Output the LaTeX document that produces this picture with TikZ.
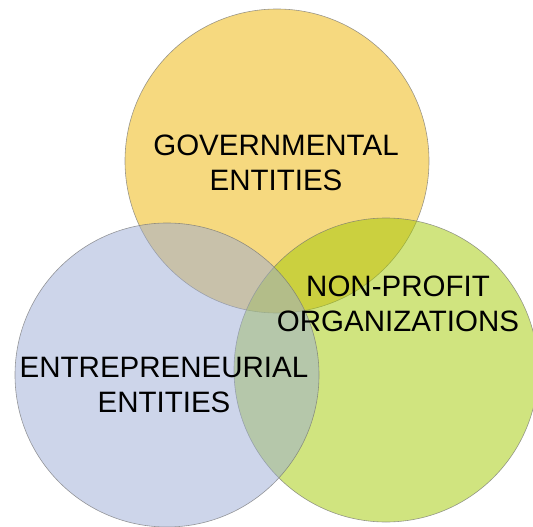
\documentclass[tikz,border=0pt]{standalone}
\usepackage{fontspec}
\setmainfont{Liberation Sans}
\definecolor{govcol}{RGB}{237,179,0}
\definecolor{npcol}{RGB}{161,201,0}
\definecolor{entcol}{RGB}{155,171,213}
\begin{document}
\begin{tikzpicture}[x=1pt,y=-1pt,
  venn/.style={circle, minimum size=304pt, inner sep=0pt, fill opacity=0.5, draw=black!55, draw opacity=0.7, line width=0.6pt},
  lbl/.style={font=\fontsize{29.5}{35.5}\selectfont, align=center, inner sep=0pt, text=black, anchor=base}]
\useasboundingbox (0,0) rectangle (533,527);
\node[venn, fill=govcol] (gov) at (277,161) {};
\node[venn, fill=npcol] (np) at (386,370) {};
\node[venn, fill=entcol] (ent) at (167,375) {};
\node[lbl] (govt) at (276,190.5) {GOVERNMENTAL\\ENTITIES};
\node[lbl] (npt) at (398,331.5) {NON-PROFIT\\ORGANIZATIONS};
\node[lbl] (entt) at (164,412.5) {ENTREPRENEURIAL\\ENTITIES};
\end{tikzpicture}
\end{document}
